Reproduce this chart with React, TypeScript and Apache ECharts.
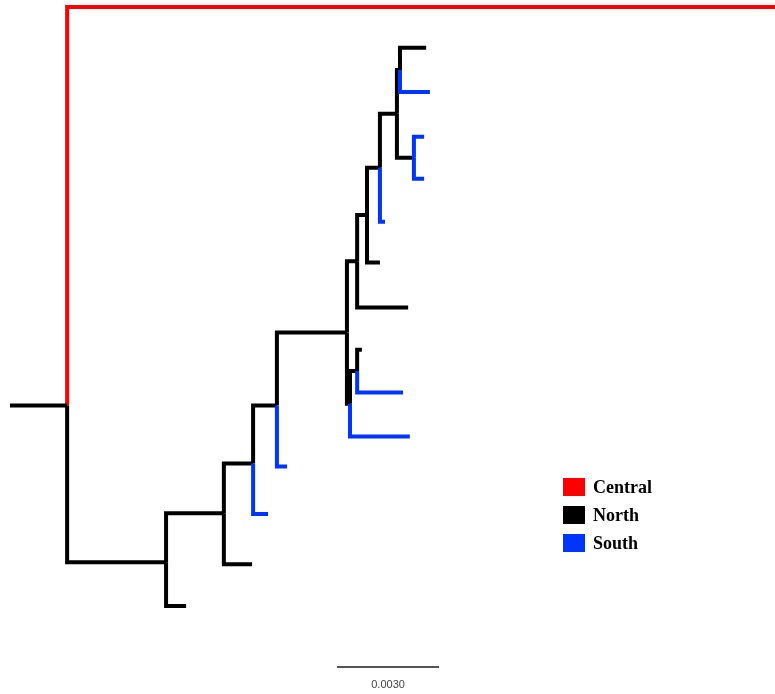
import React, { useEffect, useRef } from "react";
import * as echarts from "echarts";

// Regions (legend) and their colours
const regions = ["Central", "North", "South"];
const regionColors = ["#ff0000", "#000000", "#0035ff"];

// Tree nodes (parallel arrays): id, parent, depth (substitutions/site from stem start), region
const nodeIds = ["R", "Cen", "N166", "N224", "N253", "N277", "G", "F", "E", "D", "B", "A", "C", "H", "I",
  "t1", "t2", "t3", "t4", "t5", "t6", "t7", "t8", "t9", "t10", "t11", "t12", "t13", "t14"];
const nodeParents = [null, "R", "R", "N166", "N224", "N253", "N277", "G", "F", "E", "D", "B", "B", "G", "H",
  "A", "A", "C", "C", "D", "E", "F", "I", "I", "H", "N277", "N253", "N224", "N166"];
const nodeDepths = [0.00168, 0.0225, 0.00459, 0.00629, 0.00715, 0.00785, 0.00991, 0.01021, 0.0105, 0.01088,
  0.01138, 0.01147, 0.01188, 0.01, 0.01021,
  0.01224, 0.01235, 0.01218, 0.01218, 0.01103, 0.01088, 0.01171, 0.01035, 0.01156, 0.01176, 0.00815, 0.00759, 0.00712, 0.00518];
const nodeRegions = ["North", "Central", "North", "North", "North", "North", "North", "North", "North", "North",
  "North", "North", "North", "North", "North",
  "North", "South", "South", "South", "South", "North", "North", "North", "South", "South", "South", "South", "North", "North"];
// Leaf display rows (top to bottom)
const leafRows: Record<string, number> = {
  Cen: 0, t1: 0.95, t2: 1.98, t3: 3.02, t4: 4.0, t5: 5.0, t6: 5.95, t7: 7.0,
  t8: 7.98, t9: 8.98, t10: 10.0, t11: 10.7, t12: 11.81, t13: 12.98, t14: 13.95,
};
// Internal node rows as drawn in the reference (others sit midway between children)
const internalRows: Record<string, number> = {
  R: 9.28, N166: 12.93, N224: 11.79, N253: 10.63, N277: 9.28,
};

// Scale bar
const scaleLength = 0.003;
const scaleStart = 0.00962;
const scaleRow = 15.37;

function buildSegments() {
  const idx: Record<string, number> = {};
  nodeIds.forEach((id, i) => (idx[id] = i));
  const rows: Record<string, number> = {};
  const rowOf = (id: string): number => {
    if (rows[id] !== undefined) return rows[id];
    let r: number;
    if (internalRows[id] !== undefined) r = internalRows[id];
    else if (leafRows[id] !== undefined) r = leafRows[id];
    else {
      const kids = nodeIds.filter((_, i) => nodeParents[i] === id);
      r = kids.reduce((s, k) => s + rowOf(k), 0) / kids.length;
    }
    rows[id] = r;
    return r;
  };
  const byRegion: Record<string, number[][][]> = {};
  regions.forEach((r) => (byRegion[r] = []));
  nodeIds.forEach((id, i) => {
    const p = nodeParents[i];
    const row = rowOf(id);
    const d = nodeDepths[i];
    if (p === null) {
      byRegion[nodeRegions[i]].push([[0, row], [d, row]]);
    } else {
      const pd = nodeDepths[idx[p]];
      const prow = rowOf(p);
      byRegion[nodeRegions[i]].push([[pd, prow], [pd, row], [d, row]]);
    }
  });
  return byRegion;
}

export default function App() {
  const ref = useRef<HTMLDivElement>(null);
  useEffect(() => {
    if (!ref.current) return;
    const chart = echarts.init(ref.current, null, { renderer: "svg" });
    const segs = buildSegments();
    const treeSeries = regions.map((r, i) => ({
      type: "lines",
      name: r,
      coordinateSystem: "cartesian2d",
      polyline: true,
      silent: true,
      color: regionColors[i],
      itemStyle: { color: regionColors[i] },
      lineStyle: { color: regionColors[i], width: 4, opacity: 1, cap: "butt", join: "miter" },
      data: segs[r].map((c) => ({ coords: c })),
      z: i === 0 ? 1 : 2,
    }));
    chart.setOption({
      animation: false,
      grid: { left: 10, right: 0, top: 7, height: 688 },
      xAxis: { type: "value", min: 0, max: 0.0225, show: false },
      yAxis: { type: "value", min: 0, max: 16, inverse: true, show: false },
      legend: {
        orient: "vertical",
        left: 563,
        top: 478,
        padding: 0,
        itemWidth: 20,
        itemHeight: 16,
        itemGap: 10,
        icon: "rect",
        selectedMode: false,
        data: regions,
        textStyle: {
          fontFamily: "Liberation Serif",
          fontWeight: "bold",
          fontSize: 18,
          color: "#000",
          padding: [0, 0, 0, 4],
        },
      },
      series: [
        ...treeSeries,
        {
          type: "lines",
          name: "scale",
          coordinateSystem: "cartesian2d",
          silent: true,
          lineStyle: { color: "#555", width: 2, opacity: 1 },
          label: {
            show: true,
            position: "insideMiddleBottom",
            formatter: scaleLength.toFixed(4),
            fontFamily: "Liberation Sans",
            fontSize: 11,
            color: "#444",
            distance: 12,
          },
          data: [{ coords: [[scaleStart, scaleRow], [scaleStart + scaleLength, scaleRow]] }],
        },
      ],
    });
    return () => chart.dispose();
  }, []);
  return <div ref={ref} style={{ position: "fixed", left: 0, top: 0, width: 775, height: 694 }} />;
}
